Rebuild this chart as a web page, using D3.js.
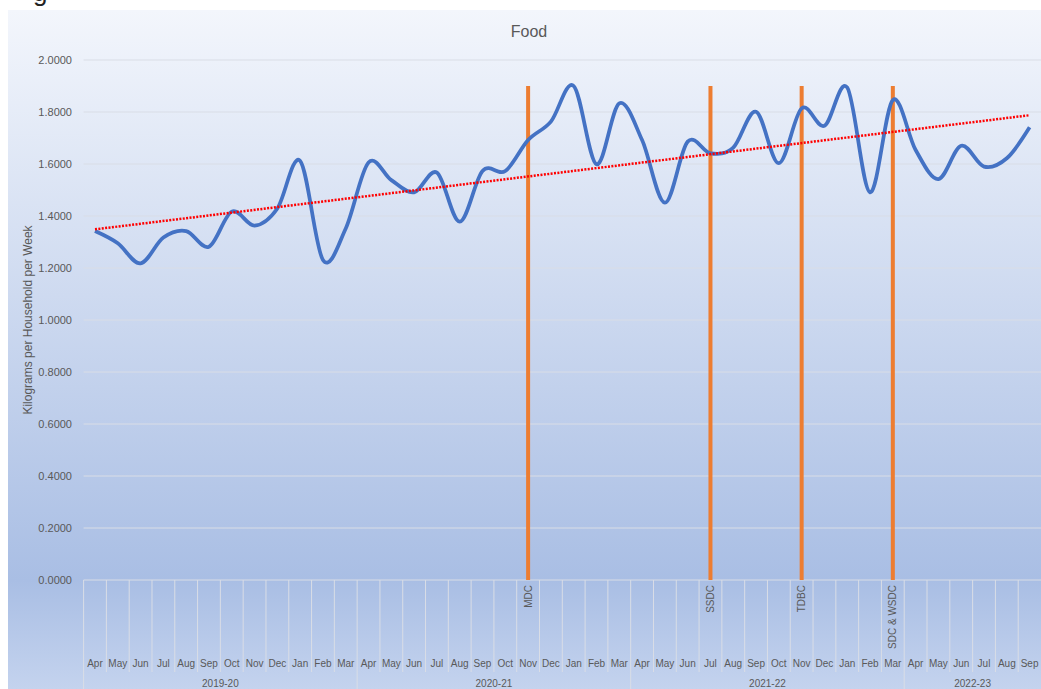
<!DOCTYPE html>
<html>
<head>
<meta charset="utf-8">
<script src="https://cdnjs.cloudflare.com/ajax/libs/d3/7.8.5/d3.min.js"></script>
<style>
  body { margin: 0; background: #fff; }
  svg { display: block; font-family: "Liberation Sans", Arial, sans-serif; }
</style>
</head>
<body>
<script>
// financial years and the months shown in each
var yearLabels = ["2019-20", "2020-21", "2021-22", "2022-23"];
var yearMonths = [
    ["Apr","May","Jun","Jul","Aug","Sep","Oct","Nov","Dec","Jan","Feb","Mar"],
    ["Apr","May","Jun","Jul","Aug","Sep","Oct","Nov","Dec","Jan","Feb","Mar"],
    ["Apr","May","Jun","Jul","Aug","Sep","Oct","Nov","Dec","Jan","Feb","Mar"],
    ["Apr","May","Jun","Jul","Aug","Sep"]
];

// kg per household per week
var foodValues = [
    1.342, 1.295, 1.218, 1.317, 1.342, 1.282, 1.417, 1.363, 1.429, 1.612, 1.231, 1.352,
    1.606, 1.538, 1.491, 1.567, 1.378, 1.573, 1.573, 1.692, 1.763, 1.900, 1.599, 1.833,
    1.692, 1.451, 1.686, 1.641, 1.663, 1.801, 1.603, 1.814, 1.747, 1.894, 1.491, 1.846,
    1.654, 1.542, 1.670, 1.590, 1.622, 1.741
];

// service changes marked with a bar
var eventCategories = ["2020-21 Nov", "2021-22 Jul", "2021-22 Nov", "2021-22 Mar"];
var eventLabels = ["MDC", "SSDC", "TDBC", "SDC & WSDC"];
var eventValues = [1.9, 1.9, 1.9, 1.9];

var yTicks = [0, 0.2, 0.4, 0.6, 0.8, 1.0, 1.2, 1.4, 1.6, 1.8, 2.0];

var w = 1041, h = 689;
var plotLeft = 83.6, plotRight = 1041, plotTop = 60, plotBottom = 580;

var categories = [];
var monthOf = [];
yearLabels.forEach(function (yr, i) {
    yearMonths[i].forEach(function (m) {
        categories.push(yr + " " + m);
        monthOf.push(m);
    });
});

var x = d3.scaleBand().domain(categories).range([plotLeft, plotRight]).padding(0);
var y = d3.scaleLinear().domain([0, 2]).range([plotBottom, plotTop]);
var cx = function (c) { return x(c) + x.bandwidth() / 2; };

var svg = d3.select("body").append("svg")
    .attr("width", w)
    .attr("height", h);

var defs = svg.append("defs");
var grad = defs.append("linearGradient")
    .attr("id", "bg")
    .attr("x1", 0).attr("y1", 0).attr("x2", 0).attr("y2", 1);
grad.append("stop").attr("offset", "0%").attr("stop-color", "#f3f6fc");
grad.append("stop").attr("offset", "84%").attr("stop-color", "#a9bee4");
grad.append("stop").attr("offset", "100%").attr("stop-color", "#c4d3ee");

// chart panel
svg.append("rect")
    .attr("x", 8).attr("y", 10)
    .attr("width", w - 8).attr("height", h - 10)
    .attr("fill", "url(#bg)");

// bit of the caption above the chart
svg.append("text")
    .attr("x", 33).attr("y", 1)
    .attr("font-size", 26)
    .attr("fill", "#222")
    .text("g");

// gridlines
svg.append("g")
    .selectAll("line")
    .data(yTicks.filter(function (d) { return d > 0; }))
    .enter().append("line")
    .attr("x1", plotLeft).attr("x2", plotRight)
    .attr("y1", function (d) { return y(d); })
    .attr("y2", function (d) { return y(d); })
    .attr("stroke", "#d9dde6")
    .attr("stroke-width", 1);

// y tick labels
svg.append("g")
    .selectAll("text")
    .data(yTicks)
    .enter().append("text")
    .attr("x", 72)
    .attr("y", function (d) { return y(d); })
    .attr("dy", "0.35em")
    .attr("text-anchor", "end")
    .attr("font-size", 11)
    .attr("fill", "#595959")
    .text(d3.format(".4f"));

svg.append("text")
    .attr("transform", "translate(32," + ((plotTop + plotBottom) / 2) + ") rotate(-90)")
    .attr("text-anchor", "middle")
    .attr("font-size", 12)
    .attr("fill", "#595959")
    .text("Kilograms per Household per Week");

svg.append("text")
    .attr("x", 529).attr("y", 37)
    .attr("text-anchor", "middle")
    .attr("font-size", 16)
    .attr("fill", "#595959")
    .text("Food");

// category axis: month cells
var axisG = svg.append("g");
axisG.append("line")
    .attr("x1", plotLeft).attr("x2", plotRight)
    .attr("y1", plotBottom).attr("y2", plotBottom)
    .attr("stroke", "#d9dde6");

axisG.selectAll(".sep")
    .data(categories)
    .enter().append("line")
    .attr("class", "sep")
    .attr("x1", function (c) { return x(c); })
    .attr("x2", function (c) { return x(c); })
    .attr("y1", plotBottom)
    .attr("y2", function (c) { return c.slice(-3) === "Apr" ? h : 672; })
    .attr("stroke", "#d9dde6");

axisG.selectAll(".month")
    .data(categories)
    .enter().append("text")
    .attr("class", "month")
    .attr("x", cx)
    .attr("y", 667)
    .attr("text-anchor", "middle")
    .attr("font-size", 10)
    .attr("fill", "#595959")
    .text(function (c, i) { return monthOf[i]; });

axisG.selectAll(".year")
    .data(yearLabels)
    .enter().append("text")
    .attr("class", "year")
    .attr("x", function (yr, i) {
        var first = x(yr + " " + yearMonths[i][0]);
        var last = x(yr + " " + yearMonths[i][yearMonths[i].length - 1]) + x.bandwidth();
        return (first + last) / 2;
    })
    .attr("y", 687)
    .attr("text-anchor", "middle")
    .attr("font-size", 10)
    .attr("fill", "#595959")
    .text(function (d) { return d; });

// event labels under the axis
axisG.selectAll(".evlabel")
    .data(eventCategories)
    .enter().append("text")
    .attr("class", "evlabel")
    .attr("transform", function (c) { return "translate(" + (cx(c) + 3.5) + "," + (plotBottom + 5) + ") rotate(-90)"; })
    .attr("text-anchor", "end")
    .attr("font-size", 10)
    .attr("fill", "#595959")
    .text(function (c, i) { return eventLabels[i]; });

// event bars
svg.append("g")
    .selectAll("rect")
    .data(eventCategories)
    .enter().append("rect")
    .attr("x", function (c) { return cx(c) - 2; })
    .attr("width", 4)
    .attr("y", function (c, i) { return y(eventValues[i]); })
    .attr("height", function (c, i) { return plotBottom - y(eventValues[i]); })
    .attr("fill", "#ed7d31");

// food line
var line = d3.line()
    .x(function (d, i) { return cx(categories[i]); })
    .y(function (d) { return y(d); })
    .curve(d3.curveCatmullRom.alpha(0));

svg.append("path")
    .datum(foodValues)
    .attr("d", line)
    .attr("fill", "none")
    .attr("stroke", "#4472c4")
    .attr("stroke-width", 3.75)
    .attr("stroke-linejoin", "round");

// linear trendline
var n = foodValues.length;
var mx = d3.mean(d3.range(n)), my = d3.mean(foodValues);
var sxy = d3.sum(foodValues, function (v, i) { return (i - mx) * (v - my); });
var sxx = d3.sum(d3.range(n), function (i) { return (i - mx) * (i - mx); });
var slope = sxy / sxx, icpt = my - slope * mx;

svg.append("line")
    .attr("x1", cx(categories[0]))
    .attr("y1", y(icpt))
    .attr("x2", cx(categories[n - 1]))
    .attr("y2", y(icpt + slope * (n - 1)))
    .attr("stroke", "#ff0000")
    .attr("stroke-width", 2.5)
    .attr("stroke-dasharray", "2,1.4");
</script>
</body>
</html>
